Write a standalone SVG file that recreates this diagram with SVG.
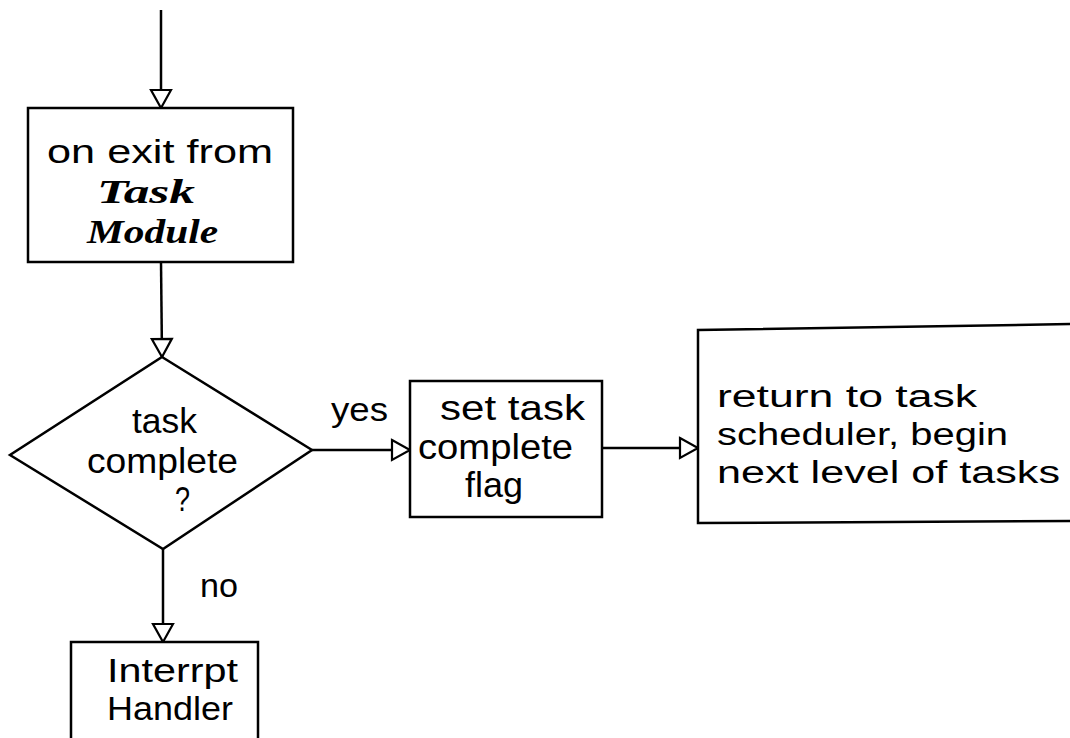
<svg xmlns="http://www.w3.org/2000/svg" width="1070" height="738" viewBox="0 0 1070 738">
<style>
.box{fill:#fff;stroke:#000;stroke-width:2.5}
.ln{fill:none;stroke:#000;stroke-width:2.5}
.t{font-family:"Liberation Sans","DejaVu Sans",sans-serif;fill:#000}
.it{font-family:"Liberation Serif","DejaVu Serif",serif;font-style:italic;font-weight:bold;fill:#000}
</style>
<defs>
<marker id="arr" viewBox="0 0 20 22" refX="19" refY="11" markerWidth="20" markerHeight="22" markerUnits="userSpaceOnUse" orient="auto" overflow="visible">
<path d="M1,1 L19,11 L1,21 Z" fill="#fff" stroke="#000" stroke-width="2.2"/>
</marker>
</defs>
<rect width="1070" height="738" fill="#fff"/>
<g id="connectors">
<line class="ln" x1="161" y1="10" x2="161" y2="108" marker-end="url(#arr)"/>
<line class="ln" x1="161" y1="262" x2="162" y2="357" marker-end="url(#arr)"/>
<line class="ln" x1="312" y1="450" x2="410" y2="450" marker-end="url(#arr)"/>
<line class="ln" x1="602" y1="448" x2="698" y2="448" marker-end="url(#arr)"/>
<line class="ln" x1="163" y1="549" x2="163" y2="642" marker-end="url(#arr)"/>
<text class="t" x="331" y="421" font-size="33" textLength="57" lengthAdjust="spacingAndGlyphs">yes</text>
<text class="t" x="200" y="597" font-size="33" textLength="38" lengthAdjust="spacingAndGlyphs">no</text>
</g>
<g id="exit">
<rect class="box" x="28" y="108" width="265" height="154"/>
<text class="t" x="47" y="163" font-size="33" textLength="226" lengthAdjust="spacingAndGlyphs">on exit from</text>
<text class="it" x="97" y="203" font-size="34" textLength="98" lengthAdjust="spacingAndGlyphs">Task</text>
<text class="it" x="87" y="243" font-size="34" textLength="131" lengthAdjust="spacingAndGlyphs">Module</text>
</g>
<g id="decision">
<polygon class="box" points="162,357 312,450 163,549 10,455"/>
<text class="t" x="132" y="433" font-size="35" textLength="65" lengthAdjust="spacingAndGlyphs">task</text>
<text class="t" x="87" y="473" font-size="35" textLength="151" lengthAdjust="spacingAndGlyphs">complete</text>
<text class="t" x="175" y="511" font-size="35" textLength="15" lengthAdjust="spacingAndGlyphs">?</text>
</g>
<g id="setflag">
<rect class="box" x="410" y="381" width="192" height="136"/>
<text class="t" x="440" y="420" font-size="35" textLength="145" lengthAdjust="spacingAndGlyphs">set task</text>
<text class="t" x="418" y="459" font-size="35" textLength="155" lengthAdjust="spacingAndGlyphs">complete</text>
<text class="t" x="465" y="497" font-size="35" textLength="58" lengthAdjust="spacingAndGlyphs">flag</text>
</g>
<g id="return">
<path class="box" d="M1075,324 L698,330 L698,523 L1075,521"/>
<text class="t" x="717" y="407" font-size="31" textLength="260" lengthAdjust="spacingAndGlyphs">return to task</text>
<text class="t" x="717" y="445" font-size="31" textLength="291" lengthAdjust="spacingAndGlyphs">scheduler, begin</text>
<text class="t" x="717" y="483" font-size="31" textLength="343" lengthAdjust="spacingAndGlyphs">next level of tasks</text>
</g>
<g id="interrupt">
<path class="box" d="M71,745 L71,642 L258,642 L258,745"/>
<text class="t" x="107" y="682" font-size="33" textLength="131" lengthAdjust="spacingAndGlyphs">Interrpt</text>
<text class="t" x="107" y="720" font-size="33" textLength="126" lengthAdjust="spacingAndGlyphs">Handler</text>
</g>
</svg>
